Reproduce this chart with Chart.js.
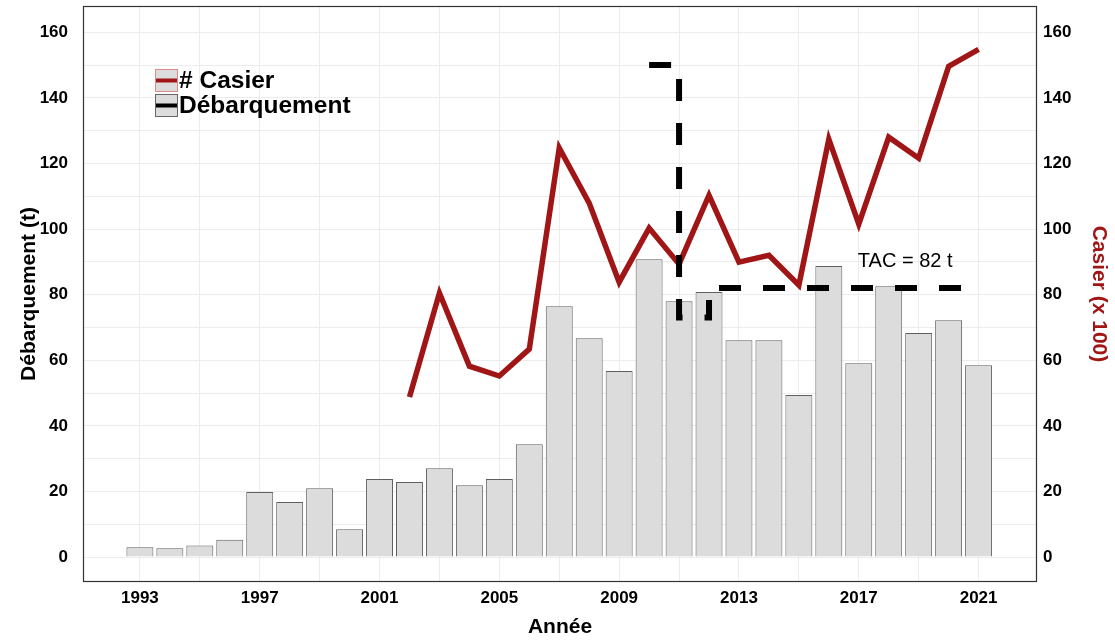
<!DOCTYPE html>
<html lang="fr">
<head>
<meta charset="utf-8">
<title>Débarquement et casiers</title>
<script src="https://cdn.jsdelivr.net/npm/chart.js@4.4.1/dist/chart.umd.min.js"></script>
<style>
    html, body { margin: 0; padding: 0; background: #fff; }
    #wrap { width: 1115px; height: 642px; }
</style>
</head>
<body>
<div id="wrap"><canvas id="landingChart" width="1115" height="642"></canvas></div>
<script>
// Années et séries
const years = [1993, 1994, 1995, 1996, 1997, 1998, 1999, 2000, 2001, 2002, 2003, 2004, 2005, 2006, 2007,
    2008, 2009, 2010, 2011, 2012, 2013, 2014, 2015, 2016, 2017, 2018, 2019, 2020, 2021];
const landings = [3.0, 2.7, 3.5, 5.3, 19.8, 16.8, 21.0, 8.5, 23.8, 22.9, 27.1, 21.9, 23.8, 34.4, 76.5,
    66.7, 56.7, 90.8, 78.0, 80.8, 66.1, 66.1, 49.4, 88.7, 59.1, 82.6, 68.3, 72.2, 58.5];

const trapYears = [2002, 2003, 2004, 2005, 2006, 2007, 2008, 2009, 2010, 2011, 2012, 2013, 2014, 2015,
    2016, 2017, 2018, 2019, 2020, 2021];
const traps = [48.8, 80.5, 58.2, 55.2, 63.4, 124.7, 107.9, 83.8, 100.3, 89.3, 110.3, 89.9, 92.0, 82.9,
    127.4, 101.5, 128.0, 121.6, 149.6, 154.8];

const tacYears = [2010, 2011, 2012, 2013, 2014, 2015, 2016, 2017, 2018, 2019, 2020, 2021];
const tacValues = [150, 73, 82, 82, 82, 82, 82, 82, 82, 82, 82, 82];

const xTicks = [1993, 1995, 1997, 1999, 2001, 2003, 2005, 2007, 2009, 2011, 2013, 2015, 2017, 2019, 2021];
const yTicks = [0, 10, 20, 30, 40, 50, 60, 70, 80, 90, 100, 110, 120, 130, 140, 150, 160];

const RED = '#a01616';
const FONT = "'Liberation Sans', Arial, sans-serif";

const toPoints = (xs, ys) => xs.map((x, i) => ({ x: x, y: ys[i] }));

// cadre, légende et étiquette du TAC
const extras = {
    id: 'extras',
    afterDraw(chart) {
        const ctx = chart.ctx;
        const a = chart.chartArea;
        const xs = chart.scales.x;
        const ys = chart.scales.y;
        ctx.save();

        ctx.strokeStyle = '#333';
        ctx.lineWidth = 1.2;
        ctx.strokeRect(a.left + 0.5, a.top + 0.5, a.right - a.left - 1, a.bottom - a.top - 1);

        // étiquette TAC
        ctx.fillStyle = '#000';
        ctx.font = '20px ' + FONT;
        ctx.textAlign = 'center';
        ctx.textBaseline = 'middle';
        ctx.fillText('TAC = 82 t', xs.getPixelForValue(2018.55), ys.getPixelForValue(90));

        // légende
        const items = [
            { text: '# Casier', color: RED, edge: '#e08a8a' },
            { text: 'Débarquement', color: '#000', edge: '#666' }
        ];
        const kx = 155, ky = 69, kw = 23, kh = 23, gap = 2;
        ctx.font = 'bold 24.5px ' + FONT;
        ctx.textAlign = 'left';
        ctx.textBaseline = 'middle';
        items.forEach((it, i) => {
            const y0 = ky + i * (kh + gap);
            ctx.fillStyle = '#dcdcdc';
            ctx.fillRect(kx, y0, kw, kh);
            ctx.strokeStyle = it.edge;
            ctx.lineWidth = 1;
            ctx.strokeRect(kx + 0.5, y0 + 0.5, kw - 1, kh - 1);
            ctx.strokeStyle = it.color;
            ctx.lineWidth = 4;
            ctx.beginPath();
            ctx.moveTo(kx + 1, y0 + kh / 2);
            ctx.lineTo(kx + kw - 1, y0 + kh / 2);
            ctx.stroke();
            ctx.fillStyle = '#000';
            ctx.fillText(it.text, kx + kw + 1, y0 + kh / 2 + 1);
        });
        ctx.restore();
    }
};

const tickFont = { family: FONT, size: 17, weight: 'bold' };
const titleFont = { family: FONT, size: 21, weight: 'bold' };

// pas de marge automatique pour les étiquettes en bout d'axe
const noEdgePadding = s => {
    s.paddingTop = 0;
    s.paddingBottom = 0;
    s.paddingLeft = 0;
    s.paddingRight = 0;
};

new Chart(document.getElementById('landingChart'), {
    type: 'bar',
    data: {
        datasets: [
            {
                type: 'line',
                label: 'TAC',
                data: toPoints(tacYears, tacValues),
                yAxisID: 'y',
                stepped: 'before',
                borderColor: '#000',
                borderWidth: 6,
                borderDash: [22, 22],
                pointRadius: 0,
                fill: false,
                order: 0
            },
            {
                type: 'line',
                label: '# Casier',
                data: toPoints(trapYears, traps),
                yAxisID: 'y2',
                borderColor: RED,
                borderWidth: 5.5,
                borderJoinStyle: 'miter',
                tension: 0,
                pointRadius: 0,
                fill: false,
                order: 1
            },
            {
                label: 'Débarquement',
                data: toPoints(years, landings),
                yAxisID: 'y',
                backgroundColor: '#dcdcdc',
                borderColor: '#5f5f5f',
                borderWidth: 1,
                barPercentage: 0.9,
                categoryPercentage: 1.0,
                order: 2
            }
        ]
    },
    options: {
        responsive: false,
        animation: false,
        layout: { padding: { top: 6, left: 0, right: 0, bottom: 0 } },
        plugins: {
            legend: { display: false },
            tooltip: { enabled: false }
        },
        scales: {
            x: {
                type: 'linear',
                offset: false,
                min: 1991.1,
                max: 2022.95,
                afterBuildTicks: s => { s.ticks = xTicks.map(v => ({ value: v })); },
                afterFit: s => { s.height = 60; noEdgePadding(s); },
                grid: { color: '#ececec', lineWidth: 1, drawTicks: false, offset: false },
                border: { display: false },
                ticks: {
                    autoSkip: false,
                    maxRotation: 0,
                    padding: 6,
                    color: '#000',
                    font: tickFont,
                    callback: v => ((v - 1993) % 4 === 0 ? String(v) : '')
                },
                title: {
                    display: true,
                    text: 'Année',
                    color: '#000',
                    font: titleFont,
                    padding: { top: 0, bottom: 2 }
                }
            },
            y: {
                position: 'left',
                min: -7.6,
                max: 168,
                afterBuildTicks: s => { s.ticks = yTicks.map(v => ({ value: v })); },
                afterFit: s => { s.width = 83; noEdgePadding(s); },
                grid: { color: '#ececec', lineWidth: 1, drawTicks: false },
                border: { display: false },
                ticks: {
                    padding: 15,
                    color: '#000',
                    font: tickFont,
                    callback: v => (v % 20 === 0 ? String(v) : '')
                },
                title: {
                    display: true,
                    text: 'Débarquement (t)',
                    color: '#000',
                    font: titleFont,
                    padding: { top: 17, bottom: 0 }
                }
            },
            y2: {
                position: 'right',
                min: -7.6,
                max: 168,
                afterBuildTicks: s => { s.ticks = yTicks.map(v => ({ value: v })); },
                afterFit: s => { s.width = 78; noEdgePadding(s); },
                grid: { display: false, drawTicks: false },
                border: { display: false },
                ticks: {
                    padding: 6,
                    color: '#000',
                    font: tickFont,
                    callback: v => (v % 20 === 0 ? String(v) : '')
                },
                title: {
                    display: true,
                    text: 'Casier (x 100)',
                    color: RED,
                    font: titleFont,
                    padding: { top: 4, bottom: 0 }
                }
            }
        }
    },
    plugins: [extras]
});
</script>
</body>
</html>
